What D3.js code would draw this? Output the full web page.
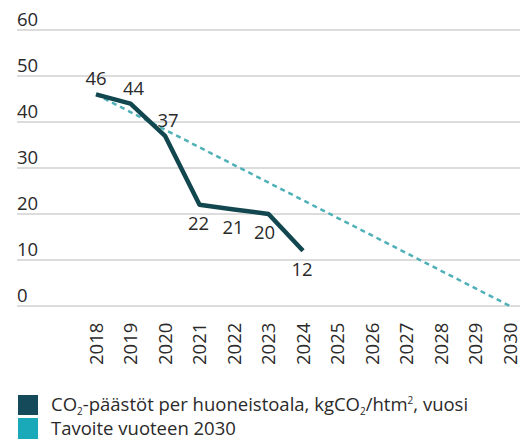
<!DOCTYPE html>
<html>
<head>
<meta charset="utf-8">
<script src="https://cdn.jsdelivr.net/npm/d3@7"></script>
<style>
  html, body { margin: 0; padding: 0; background: #fff; }
  svg { display: block; }
  text { font-family: "Open Sans", "Noto Sans", sans-serif; fill: #2a2a2a; }
</style>
</head>
<body>
<svg id="chart" width="520" height="439"></svg>
<script>
// ---- data ----
const years = [2018, 2019, 2020, 2021, 2022, 2023, 2024, 2025, 2026, 2027, 2028, 2029, 2030];
const actualYears = [2018, 2019, 2020, 2021, 2022, 2023, 2024];
const actualValues = [46, 44, 37, 22, 21, 20, 12];
const targetYears = [2018, 2030];
const targetValues = [46, 0];
const yTicks = [0, 10, 20, 30, 40, 50, 60];
const legendLabels = ["CO2 emissions", "Tavoite vuoteen 2030"];

// ---- layout ----
const W = 520, H = 439;
const svg = d3.select("#chart");
const x = d3.scaleLinear().domain([2018, 2030]).range([96, 510]);
const y = d3.scaleLinear().domain([0, 60]).range([306, 30]);
const darkColor = "#12474f";
const targetColor = "#4fb0b8";
const legendLight = "#19a9b8";
const legendDark = "#154a5a";

// grid
const gAxis = svg.append("g");
gAxis.selectAll("line.grid").data(yTicks).join("line")
  .attr("class", "grid")
  .attr("x1", 17).attr("x2", W)
  .attr("y1", d => y(d)).attr("y2", d => y(d))
  .attr("stroke", "#dcdcdc").attr("stroke-width", 2);
gAxis.selectAll("text.ylab").data(yTicks).join("text")
  .attr("class", "ylab")
  .attr("x", 17).attr("y", d => y(d) - 4.5)
  .attr("font-size", 18.5)
  .text(d => d);

// x labels
const xAxis = d3.axisBottom(x).tickValues(years).tickSize(0).tickFormat(d3.format("d"));
const gx = svg.append("g");
gx.call(xAxis);
gx.select(".domain").remove();
gx.selectAll(".tick text")
  .attr("transform", `translate(0,365) rotate(-90)`)
  .attr("x", 0).attr("y", 0).attr("dy", "0.35em")
  .attr("text-anchor", "start")
  .attr("font-size", 18.5)
  .attr("font-family", "\"Open Sans\", sans-serif")
  .style("fill", "#2a2a2a");

// target dashed line
const line = d3.line().x(d => x(d[0])).y(d => y(d[1]));
svg.append("path")
  .datum(targetYears.map((yr, i) => [yr, targetValues[i]]))
  .attr("d", line)
  .attr("fill", "none")
  .attr("stroke", targetColor)
  .attr("stroke-width", 2.5)
  .attr("stroke-dasharray", "5,4");

// actual line
const actual = actualYears.map((yr, i) => [yr, actualValues[i]]);
svg.append("path")
  .datum(actual)
  .attr("d", line)
  .attr("fill", "none")
  .attr("stroke", darkColor)
  .attr("stroke-width", 4.5)
  .attr("stroke-linejoin", "round");

// value labels
svg.selectAll("text.val").data(actual).join("text")
  .attr("class", "val")
  .attr("x", (d, i) => x(d[0]) + (i === 0 ? 0 : i < 3 ? 3 : i === 5 ? -4 : -1))
  .attr("y", (d, i) => i < 3 ? y(d[1]) - 9 : y(d[1]) + 25)
  .attr("text-anchor", "middle")
  .attr("font-size", 18.5)
  .text(d => d[1]);

// legend
const lg = svg.append("g");
lg.append("rect").attr("x", 18).attr("y", 395).attr("width", 20).attr("height", 20).attr("fill", legendDark);
lg.append("rect").attr("x", 18).attr("y", 418).attr("width", 20).attr("height", 22).attr("fill", legendLight);
const t1 = lg.append("text").attr("x", 51).attr("y", 411).attr("font-size", 18.5);
t1.append("tspan").text("CO");
t1.append("tspan").attr("font-size", 10).attr("dy", 4).text("2");
t1.append("tspan").attr("dy", -4).text("-päästöt per huoneistoala, kgCO");
t1.append("tspan").attr("font-size", 10).attr("dy", 4).text("2");
t1.append("tspan").attr("dy", -4).text("/htm");
t1.append("tspan").attr("font-size", 10).attr("dy", -7).text("2");
t1.append("tspan").attr("dy", 7).text(", vuosi");
lg.append("text").attr("x", 51).attr("y", 435).attr("font-size", 18.5).text(legendLabels[1]);
</script>
</body>
</html>
